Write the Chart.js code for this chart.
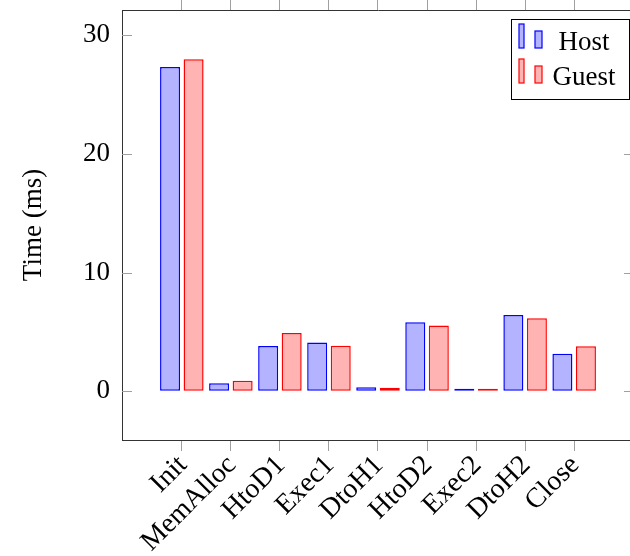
<!DOCTYPE html>
<html>
<head>
<meta charset="utf-8">
<script src="https://cdn.jsdelivr.net/npm/chart.js@4"></script>
<style>
    html, body { margin: 0; padding: 0; background: #fff; overflow: hidden; }
    #wrap { width: 640px; height: 556px; }
</style>
</head>
<body>
<div id="wrap"><canvas id="chart" width="640" height="556"></canvas></div>
<script>
// Données
const categories = ['Init', 'MemAlloc', 'HtoD1', 'Exec1', 'DtoH1', 'HtoD2', 'Exec2', 'DtoH2', 'Close'];
const hostValues = [27.3, 0.67, 3.82, 4.1, 0.34, 5.81, 0.05, 6.43, 3.17];
const guestValues = [27.95, 0.89, 4.91, 3.84, 0.3, 5.53, 0.05, 6.15, 3.79];
const yTicks = [0, 10, 20, 30];

const serif = '"Liberation Serif", "Times New Roman", serif';
const fontSize = 27;
const axisColor = '#333333';
const tickColor = '#a0a0a0';

const toPoints = values => values.map((v, i) => ({ x: i, y: v }));
const categoryTicks = () => categories.map((c, i) => ({ value: i }));

// Taille fixe des axes, sans marges automatiques
const fixSize = (prop, size) => scale => {
    scale[prop] = size;
    scale.paddingTop = 0;
    scale.paddingBottom = 0;
    scale.paddingLeft = 0;
    scale.paddingRight = 0;
};

// Petits traits de graduation vers l'intérieur (axe y, gauche et droite)
const innerTicks = {
    id: 'innerTicks',
    afterDraw(chart) {
        const { ctx, chartArea, scales } = chart;
        ctx.save();
        ctx.strokeStyle = tickColor;
        ctx.lineWidth = 1;
        yTicks.forEach(v => {
            const y = Math.round(scales.y.getPixelForValue(v)) + 0.5;
            ctx.beginPath();
            ctx.moveTo(chartArea.left, y);
            ctx.lineTo(chartArea.left + 10, y);
            ctx.moveTo(chartArea.right, y);
            ctx.lineTo(chartArea.right - 10, y);
            ctx.stroke();
        });
        ctx.restore();
    }
};

// Légende façon pgfplots (deux barres par entrée)
const barLegend = {
    id: 'barLegend',
    afterDraw(chart) {
        const ctx = chart.ctx;
        const box = { x: 511, y: 19, w: 118, h: 80 };
        ctx.save();
        ctx.fillStyle = '#ffffff';
        ctx.fillRect(box.x, box.y, box.w, box.h);
        ctx.strokeStyle = '#000000';
        ctx.lineWidth = 1;
        ctx.strokeRect(box.x + 0.5, box.y + 0.5, box.w, box.h);
        chart.data.datasets.forEach((ds, i) => {
            const base = 48 + i * 35;
            ctx.fillStyle = ds.backgroundColor;
            ctx.strokeStyle = ds.borderColor;
            ctx.lineWidth = 1.2;
            ctx.fillRect(519, base - 24, 5, 24);
            ctx.strokeRect(519, base - 24, 5, 24);
            ctx.fillRect(535, base - 17, 7, 17);
            ctx.strokeRect(535, base - 17, 7, 17);
            ctx.fillStyle = '#000000';
            ctx.font = fontSize + 'px ' + serif;
            ctx.textAlign = 'center';
            ctx.textBaseline = 'alphabetic';
            ctx.fillText(ds.label, 584, base + 2);
        });
        ctx.restore();
    }
};

const ctx = document.getElementById('chart').getContext('2d');
new Chart(ctx, {
    type: 'bar',
    data: {
        datasets: [
            {
                label: 'Host',
                data: toPoints(hostValues),
                backgroundColor: '#b3b3ff',
                borderColor: '#0000ff',
                borderWidth: 1.5,
                borderSkipped: false,
                minBarLength: 2.5
            },
            {
                label: 'Guest',
                data: toPoints(guestValues),
                backgroundColor: '#ffb3b3',
                borderColor: '#ff0000',
                borderWidth: 1.5,
                borderSkipped: false,
                minBarLength: 2.5
            }
        ]
    },
    options: {
        responsive: false,
        animation: false,
        categoryPercentage: 0.96,
        barPercentage: 0.85,
        layout: { padding: { left: 0, right: 6, top: 0, bottom: 0 } },
        plugins: {
            legend: { display: false },
            tooltip: { enabled: false }
        },
        scales: {
            x: {
                type: 'linear',
                position: 'bottom',
                offset: false,
                min: -1.22,
                max: 9.22,
                afterBuildTicks: scale => { scale.ticks = categoryTicks(); },
                afterFit: fixSize('height', 116),
                ticks: {
                    autoSkip: false,
                    minRotation: 45,
                    maxRotation: 45,
                    padding: -2,
                    labelOffset: 1,
                    color: '#000000',
                    font: { family: serif, size: 28 },
                    callback: value => categories[value]
                },
                grid: {
                    offset: false,
                    drawOnChartArea: false,
                    drawTicks: true,
                    tickLength: 11,
                    color: tickColor
                },
                border: { display: true, color: axisColor, width: 1 }
            },
            x2: {
                type: 'linear',
                position: 'top',
                offset: false,
                min: -1.22,
                max: 9.22,
                afterBuildTicks: scale => { scale.ticks = categoryTicks(); },
                afterFit: fixSize('height', 10),
                ticks: { display: false },
                grid: {
                    offset: false,
                    drawOnChartArea: false,
                    drawTicks: true,
                    tickLength: 10,
                    color: tickColor
                },
                border: { display: true, color: axisColor, width: 1 }
            },
            y: {
                min: -4.1,
                max: 32.1,
                afterBuildTicks: scale => { scale.ticks = yTicks.map(v => ({ value: v })); },
                afterFit: fixSize('width', 122),
                ticks: {
                    padding: 12,
                    color: '#000000',
                    font: { family: serif, size: fontSize }
                },
                grid: { drawOnChartArea: false, drawTicks: false },
                border: { display: true, color: axisColor, width: 1 },
                title: {
                    display: true,
                    text: 'Time (ms)',
                    color: '#000000',
                    font: { family: serif, size: fontSize },
                    padding: { top: 18, bottom: 0 }
                }
            }
        }
    },
    plugins: [innerTicks, barLegend]
});
</script>
</body>
</html>
